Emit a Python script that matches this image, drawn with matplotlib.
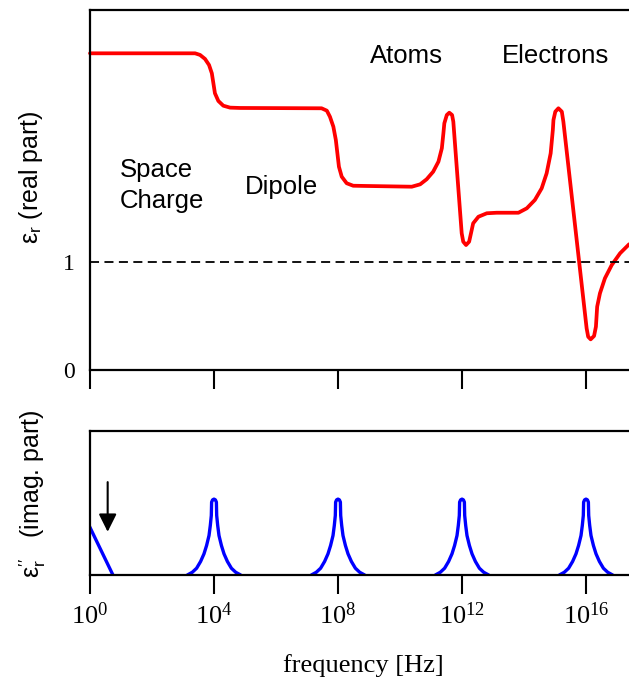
import numpy as np
import matplotlib
matplotlib.use('Agg')
import matplotlib.pyplot as plt

plt.rcParams.update({
    'font.family': 'Liberation Sans',
    'mathtext.fontset': 'custom',
    'mathtext.rm': 'Liberation Serif',
    'mathtext.sf': 'Liberation Sans',
    'mathtext.it': 'Liberation Serif:italic',
})

# real part: log10(frequency) and eps_r'
REAL_LOGF = [0.0, 3.39, 3.55, 3.71, 3.84, 3.93, 3.98, 4.03, 4.14, 4.30, 4.52, 4.84,
             7.47, 7.64, 7.74, 7.85, 7.93, 7.98, 8.03, 8.12, 8.28, 8.49, 8.87,
             10.38, 10.65, 10.86, 11.07, 11.24, 11.35, 11.40, 11.43, 11.51, 11.59,
             11.68, 11.72, 11.99, 12.04, 12.13, 12.23, 12.29, 12.36, 12.53, 12.80,
             13.12, 13.82, 14.09, 14.35, 14.57, 14.73, 14.86, 14.93, 14.95, 15.01,
             15.11, 15.22, 15.27, 16.02, 16.07, 16.15, 16.26, 16.32, 16.36, 16.45,
             16.61, 16.83, 17.10, 17.39]
REAL_EPS = [2.932, 2.932, 2.917, 2.880, 2.824, 2.747, 2.655, 2.562, 2.491, 2.447,
            2.429, 2.426,
            2.423, 2.401, 2.345, 2.253, 2.130, 2.006, 1.882, 1.790, 1.729, 1.706,
            1.704,
            1.697, 1.719, 1.766, 1.836, 1.929, 2.053, 2.192, 2.284, 2.361, 2.382,
            2.361, 2.299, 1.266, 1.188, 1.157, 1.188, 1.266, 1.358, 1.419, 1.451,
            1.456, 1.456, 1.497, 1.574, 1.682, 1.821, 2.006, 2.222, 2.315, 2.392,
            2.423, 2.392, 2.299, 0.386, 0.308, 0.284, 0.315, 0.401, 0.586, 0.710,
            0.849, 0.972, 1.081, 1.164]

# imaginary part: loss peaks (same profile at each relaxation / resonance)
PEAK_CENTERS = [4, 8, 12, 16]
PEAK_OFFSET = [-0.86, -0.70, -0.561, -0.432, -0.323, -0.239, -0.161, -0.119,
               -0.087, -0.077, -0.045, 0.0, 0.045, 0.077, 0.087, 0.119, 0.161,
               0.239, 0.323, 0.432, 0.561, 0.70, 0.86]
PEAK_HEIGHT = [0.0, 0.019, 0.047, 0.094, 0.147, 0.205, 0.274, 0.344,
               0.413, 0.506, 0.522, 0.527, 0.522, 0.506, 0.413, 0.344, 0.274,
               0.205, 0.147, 0.094, 0.047, 0.019, 0.0]
# space-charge loss tail at low frequency
TAIL_LOGF = [0.0, 0.74]
TAIL_EPS = [0.33, 0.0]

TICK_LOGF = [0, 4, 8, 12, 16]
TICK_LABELS = [r'$10^{0}$', r'$10^{4}$', r'$10^{8}$', r'$10^{12}$', r'$10^{16}$']
XMAX_LOGF = 17.387

W, H = 629, 682
fig = plt.figure(figsize=(W / 100, H / 100), dpi=100)
ax1 = fig.add_axes([90 / W, 1 - 370 / H, 539 / W, 360 / H])
ax2 = fig.add_axes([90 / W, 1 - 575 / H, 539 / W, 144 / H])

for ax in (ax1, ax2):
    ax.set_xscale('log')
    ax.set_xlim(1.0, 10.0 ** XMAX_LOGF)
    ax.set_xticks([10.0 ** t for t in TICK_LOGF])
    ax.xaxis.set_minor_locator(matplotlib.ticker.NullLocator())
    ax.spines['right'].set_visible(False)
    for s in ('left', 'top', 'bottom'):
        ax.spines[s].set_linewidth(1.6)
    ax.tick_params(axis='x', direction='out', length=13.5, width=1.5)
    ax.tick_params(axis='y', length=0, pad=11, labelsize=17)

# top panel
ax1.plot(10.0 ** np.array(REAL_LOGF), REAL_EPS, color='#ff0000', lw=2.7,
         solid_joinstyle='round', solid_capstyle='round', clip_on=False)
ax1.axhline(1.0, color='k', lw=1.3, dashes=(5, 3))
ax1.set_ylim(0, 3.333)
ax1.set_yticks([0, 1])
ax1.set_yticklabels(['0', '1'], fontfamily='Liberation Serif')
ax1.set_xticklabels([])

tkw = dict(fontsize=18.5, ha='left', va='baseline')
ax1.text(10 ** 0.97, 1.787, 'Space', **tkw)
ax1.text(10 ** 0.97, 1.50, 'Charge', **tkw)
ax1.text(10 ** 5.0, 1.63, 'Dipole', **tkw)
ax1.text(10 ** 9.03, 2.84, 'Atoms', **tkw)
ax1.text(10 ** 13.29, 2.84, 'Electrons', **tkw)

# bottom panel
ax2.plot(10.0 ** np.array(TAIL_LOGF), TAIL_EPS, color='#0000ff', lw=2.4)
for c in PEAK_CENTERS:
    ax2.plot(10.0 ** (c + np.array(PEAK_OFFSET)), PEAK_HEIGHT, color='#0000ff',
             lw=2.4, solid_joinstyle='round', solid_capstyle='round')
ax2.annotate('', xy=(10 ** 0.57, 0.30), xytext=(10 ** 0.57, 0.645),
             arrowprops=dict(arrowstyle='-|>', color='k', lw=1.5,
                             mutation_scale=27, shrinkA=0, shrinkB=0))
ax2.set_ylim(0, 1)
ax2.set_yticks([])
ax2.set_xticklabels(TICK_LABELS, fontsize=19)
ax2.tick_params(axis='x', pad=6)

fig.text(363 / W, 1 - 666 / H, 'frequency [Hz]', fontfamily='Liberation Serif',
         fontsize=19, ha='center', va='center')
fig.text(31 / W, 1 - 177 / H, 'ε$_{\\mathsf{r}}$ (real part)', fontsize=18,
         rotation=90, ha='center', va='center')
fig.text(33 / W, 1 - 494 / H, 'ε$_{\\mathsf{r}}^{\\prime\\prime}$   (imag. part)',
         fontsize=18, rotation=90, ha='center', va='center')

fig.savefig('out.png', dpi=100)
